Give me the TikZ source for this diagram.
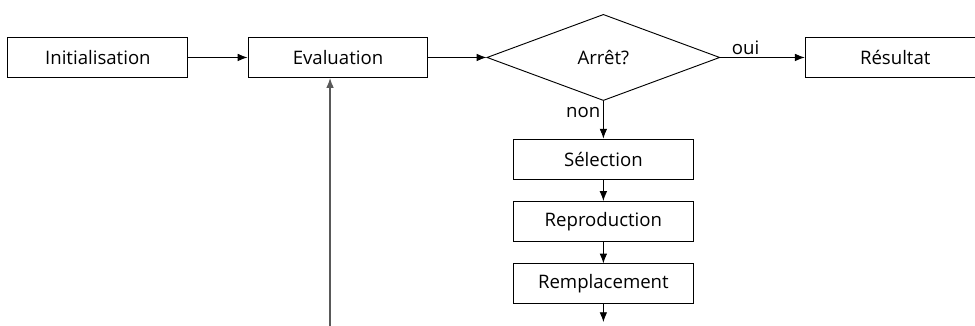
\documentclass[tikz,border=0pt]{standalone}
\usepackage{fontspec}
\setsansfont{Open Sans}
\usetikzlibrary{positioning,arrows.meta,shapes.geometric}

\begin{document}
\begin{tikzpicture}[
  font=\sffamily\fontsize{14}{16}\selectfont,
  box/.style={draw, line width=0.7pt, minimum width=4.76cm, minimum height=1.06cm, inner sep=2pt},
  test/.style={draw, diamond, line width=0.7pt, minimum width=6.16cm, minimum height=2.28cm, inner sep=0pt},
  arr/.style={-{Latex[length=2.6mm,width=2mm]}, line width=0.7pt},
  back/.style={-{Latex[length=2.6mm,width=2mm]}, line width=1pt, color=black!65},
  lbl/.style={inner sep=2pt},
]
  \clip (0,0) rectangle (25.79,-8.6);

  \node[box]  (init) at (2.59,-1.52)  {Initialisation};
  \node[box]  (eval) at (8.94,-1.52)  {Evaluation};
  \node[test] (stop) at (15.96,-1.52) {Arrêt?};
  \node[box]  (res)  at (23.68,-1.52) {Résultat};
  \node[box]  (sel)  at (15.96,-4.21) {Sélection};
  \node[box]  (repr) at (15.96,-5.86) {Reproduction};
  \node[box]  (remp) at (15.96,-7.51) {Remplacement};
  \coordinate (out)  at (15.96,-8.52);
  \coordinate (loop) at (8.73,-8.7);

  \draw[arr] (init) -- (eval);
  \draw[arr] (eval) -- (stop);
  \draw[arr] (stop) -- node[lbl, above, pos=0.3]{oui} (res);
  \draw[arr] (stop) -- node[lbl, left, pos=0.3]{non} (sel);
  \draw[arr] (sel)  -- (repr);
  \draw[arr] (repr) -- (remp);
  \draw[arr] (remp) -- (out);
  \draw[back] (loop) -- (loop |- eval.south);
\end{tikzpicture}
\end{document}
